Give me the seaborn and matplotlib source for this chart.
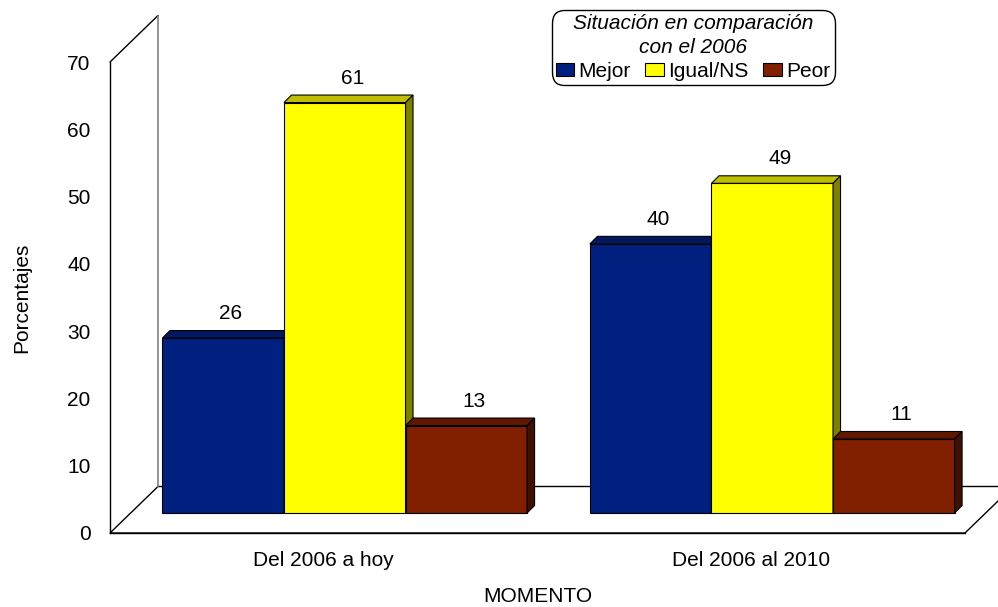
import matplotlib
matplotlib.use('Agg')
import matplotlib.pyplot as plt
import seaborn as sns
import pandas as pd
import numpy as np
from matplotlib.patches import Polygon
from matplotlib.transforms import ScaledTranslation, IdentityTransform
from matplotlib.lines import Line2D

# datos
momentos = ['Del 2006 a hoy', 'Del 2006 al 2010']
situaciones = ['Mejor', 'Igual/NS', 'Peor']
mejor = [26, 40]
igual = [61, 49]
peor = [13, 11]
colores = ['#002080', '#FFFF00', '#802000']

df = pd.DataFrame({'Momento': momentos * 3,
                   'Situacion': np.repeat(situaciones, len(momentos)),
                   'Porcentaje': mejor + igual + peor})

sns.set_style('white')
plt.rcParams['font.family'] = ['Liberation Sans', 'DejaVu Sans']
for k in ['text.color', 'axes.labelcolor', 'xtick.color', 'ytick.color']:
    plt.rcParams[k] = 'black'

FS = 15
W, H = 998, 607
fig = plt.figure(figsize=(W / 100, H / 100), dpi=100)
ax = fig.add_axes([110 / W, (H - 533) / H, 855 / W, (533 - 62) / H])

sns.barplot(data=df, x='Momento', y='Porcentaje', hue='Situacion',
            palette=colores, saturation=1, width=0.853, errorbar=None,
            edgecolor='black', linewidth=0.8, ax=ax)
ax.set_xlim(-0.5, 1.5)
ax.set_ylim(0, 70)
ax.set_yticks(range(0, 71, 10))
bars = sorted([p for p in ax.patches if p.get_height() > 0], key=lambda p: p.get_x())

# "3D" geometry in pixels
floor_d = np.array([48, 46.5])   # depth of floor / walls
shift = np.array([21, 20])        # bars sit in the middle of the floor
bar_d = np.array([7.5, 7.5])      # depth of each bar
ident = IdentityTransform()
to_px = ax.transData.transform

# floor and left wall
fl = to_px((-0.5, 0))
fr = to_px((1.5, 0))
tl = to_px((-0.5, 70))
ax.add_patch(Polygon([fl, fr, fr + floor_d, fl + floor_d], closed=True,
                     facecolor='white', edgecolor='black', lw=1,
                     transform=ident, clip_on=False, zorder=0.5))
ax.add_line(Line2D([tl[0], tl[0] + floor_d[0]], [tl[1], tl[1] + floor_d[1]],
                   color='black', lw=1, transform=ident, clip_on=False))
ax.add_line(Line2D([fl[0] + floor_d[0]] * 2, [fl[1] + floor_d[1], tl[1] + floor_d[1]],
                   color='gray', lw=1.2, transform=ident, clip_on=False))

off = ScaledTranslation(shift[0] / 100, shift[1] / 100, fig.dpi_scale_trans)
for i, p in enumerate(bars):
    p.set_transform(ax.transData + off)
    p.set_clip_on(False)
    p.set_zorder(2 + 3 * i)
    fc = np.array(p.get_facecolor()[:3])
    x0, w, h = p.get_x(), p.get_width(), p.get_height()
    l, b = to_px((x0, 0)) + shift
    r, t = to_px((x0 + w, h)) + shift
    top = [(l, t), (r, t), (r + bar_d[0], t + bar_d[1]), (l + bar_d[0], t + bar_d[1])]
    side = [(r, b), (r, t), (r + bar_d[0], t + bar_d[1]), (r + bar_d[0], b + bar_d[1])]
    ax.add_patch(Polygon(top, closed=True, facecolor=fc * 0.75, edgecolor='black',
                         lw=0.8, transform=ident, clip_on=False, zorder=3 + 3 * i))
    ax.add_patch(Polygon(side, closed=True, facecolor=fc * 0.5, edgecolor='black',
                         lw=0.8, transform=ident, clip_on=False, zorder=3 + 3 * i))
    ax.text((l + r) / 2 + bar_d[0], t + 19, f'{h:.0f}', transform=ident,
            ha='center', va='baseline', fontsize=FS, zorder=40)

sns.despine(ax=ax)
for s in ['left', 'bottom']:
    ax.spines[s].set_color('black')
    ax.spines[s].set_linewidth(1)
ax.tick_params(axis='y', length=0, pad=14, labelsize=FS)
ax.tick_params(axis='x', length=0, pad=13, labelsize=FS)
ax.set_ylabel('Porcentajes', fontsize=FS, labelpad=26)
ax.set_xlabel('MOMENTO', fontsize=FS, labelpad=12)

handles, labels = ax.get_legend_handles_labels()
ax.get_legend().remove()
leg = fig.legend(handles, labels, title='Situación en comparación\ncon el 2006',
                 ncol=3, loc='upper center', bbox_to_anchor=(693 / W, 1 - 10 / H),
                 fontsize=FS, title_fontsize=FS, frameon=True, fancybox=True,
                 edgecolor='black', framealpha=1, handlelength=0.9, handleheight=0.6,
                 handletextpad=0.2, columnspacing=0.7, borderpad=0.2,
                 borderaxespad=0, labelspacing=0.2)
leg.get_title().set_fontstyle('italic')
leg.get_title().set_multialignment('center')
leg.get_title().set_linespacing(1.35)
leg.get_frame().set_boxstyle('round', pad=0, rounding_size=0.6)
leg.get_frame().set_linewidth(1)

fig.savefig('out.png', dpi=100)
